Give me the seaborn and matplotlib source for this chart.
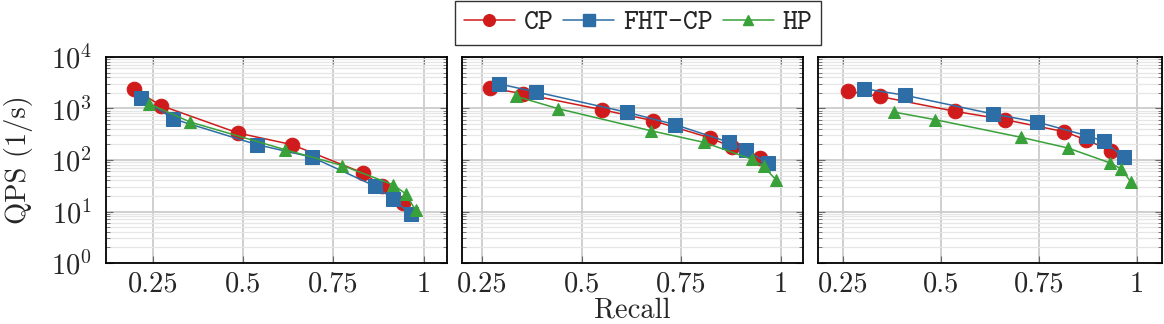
import matplotlib

matplotlib.use("Agg")
import matplotlib.pyplot as plt
import numpy as np
import pandas as pd
import seaborn as sns
from matplotlib.lines import Line2D
from matplotlib.ticker import LogLocator, NullFormatter

sns.set_style("ticks")
plt.rcParams["font.family"] = ["cmr10", "DejaVu Serif"]
plt.rcParams["mathtext.fontset"] = "cm"
plt.rcParams["axes.formatter.use_mathtext"] = True
plt.rcParams["font.size"] = 20.5

methods = ["CP", "FHT-CP", "HP"]
colors = {"CP": "#cf1b1b", "FHT-CP": "#2d6ea6", "HP": "#38a13a"}
markers = {"CP": "o", "FHT-CP": "s", "HP": "^"}
marker_sizes = {"CP": 10.5, "FHT-CP": 10, "HP": 9}

x_ticks = [0.25, 0.5, 0.75, 1.0]
x_tick_labels = ["0.25", "0.5", "0.75", "1"]
x_limits = [(0.12, 1.065), (0.2, 1.055), (0.186, 1.064)]

# recall / QPS per panel, one list per panel
cp_recall = [
    [0.197, 0.273, 0.486, 0.635, 0.832, 0.886, 0.944],
    [0.269, 0.353, 0.550, 0.679, 0.823, 0.876, 0.946],
    [0.263, 0.343, 0.536, 0.663, 0.814, 0.869, 0.934],
]
cp_qps = [
    [2390, 1135, 334, 199, 56, 31, 14.6],
    [2500, 1940, 950, 580, 267, 179, 109],
    [2150, 1720, 880, 607, 355, 248, 152],
]
fht_recall = [
    [0.218, 0.307, 0.538, 0.690, 0.866, 0.916, 0.964],
    [0.294, 0.386, 0.614, 0.734, 0.870, 0.912, 0.966],
    [0.303, 0.409, 0.633, 0.745, 0.872, 0.917, 0.966],
]
fht_qps = [
    [1600, 625, 199, 114, 31, 17.5, 8.9],
    [2990, 2090, 843, 486, 220, 154, 87.5],
    [2430, 1800, 782, 547, 297, 230, 113],
]
hp_recall = [
    [0.239, 0.353, 0.616, 0.775, 0.916, 0.951, 0.978],
    [0.336, 0.441, 0.673, 0.807, 0.926, 0.956, 0.987],
    [0.379, 0.485, 0.705, 0.824, 0.932, 0.960, 0.985],
]
hp_qps = [
    [1240, 547, 159, 78, 33, 21.9, 10.5],
    [1720, 993, 371, 220, 104, 75, 41.5],
    [855, 607, 275, 171, 87.5, 67, 37],
]

recalls = {"CP": cp_recall, "FHT-CP": fht_recall, "HP": hp_recall}
qpss = {"CP": cp_qps, "FHT-CP": fht_qps, "HP": hp_qps}

fig = plt.figure(figsize=(11.64, 3.24), dpi=100)
positions = [
    [106 / 1164, 61 / 324, 341 / 1164, 206 / 324],
    [462 / 1164, 61 / 324, 341 / 1164, 206 / 324],
    [818 / 1164, 61 / 324, 344 / 1164, 206 / 324],
]
axes = [fig.add_axes(p) for p in positions]

for i, ax in enumerate(axes):
    ax.set_yscale("log")
    for m in methods:
        df = pd.DataFrame({"recall": recalls[m][i], "qps": qpss[m][i]})
        sns.lineplot(
            data=df,
            x="recall",
            y="qps",
            sort=False,
            color=colors[m],
            marker=markers[m],
            markersize=marker_sizes[m],
            markeredgecolor=colors[m],
            linewidth=1.1,
            ax=ax,
            zorder=3,
        )
    ax.set_ylim(1, 1e4)
    ax.set_xlim(*x_limits[i])
    ax.set_xticks(x_ticks)
    ax.set_xticklabels(x_tick_labels)
    ax.yaxis.set_major_locator(LogLocator(base=10, numticks=10))
    ax.yaxis.set_minor_locator(LogLocator(base=10, subs=np.arange(2, 10), numticks=20))
    ax.yaxis.set_minor_formatter(NullFormatter())
    ax.grid(True, which="major", axis="both", color="#cccccc", linewidth=1.3)
    ax.grid(True, which="minor", axis="y", color="#e6e6e6", linewidth=0.9)
    ax.tick_params(which="both", direction="in", top=True, right=True, color="#666666")
    ax.tick_params(which="major", length=5, width=0.8)
    ax.tick_params(which="minor", length=3, width=0.6)
    ax.tick_params(axis="x", pad=6)
    ax.tick_params(axis="y", pad=10)
    for s in ax.spines.values():
        s.set_linewidth(1.3)
        s.set_color("black")
    ax.set_xlabel("")
    ax.set_ylabel("")
    if i > 0:
        ax.set_yticklabels([])

axes[0].set_ylabel("QPS (1/s)")
axes[0].yaxis.set_label_coords(-0.215, 0.5)
axes[1].set_xlabel("Recall")
axes[1].xaxis.set_label_coords(0.5, -0.165)

handles = [
    Line2D(
        [0], [0], color=colors[m], marker=markers[m], markersize=marker_sizes[m] * 0.8,
        markeredgecolor=colors[m], linewidth=1.1,
    )
    for m in methods
]
fig.legend(
    handles,
    methods,
    loc="upper center",
    bbox_to_anchor=(638 / 1164, 1 - 1 / 324),
    borderaxespad=0,
    ncol=3,
    frameon=True,
    fancybox=False,
    edgecolor="#333333",
    framealpha=1,
    handlelength=1.8,
    handletextpad=0.3,
    columnspacing=0.35,
    borderpad=0.3,
    prop={"family": "cmtt10", "size": 20.5},
)

plt.savefig("out.png", dpi=100)
